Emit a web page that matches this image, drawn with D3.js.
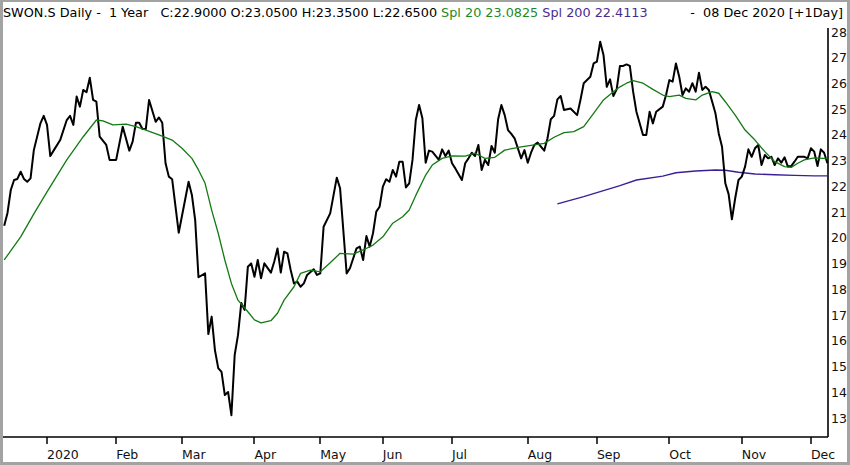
<!DOCTYPE html>
<html>
<head>
<meta charset="utf-8">
<script src="https://cdn.jsdelivr.net/npm/d3@7"></script>
<style>
  body { margin: 0; background: #fff; }
  svg text { font-family: "DejaVu Sans", Verdana, sans-serif; }
  .hdr { font-size: 12.8px; white-space: pre; }
</style>
</head>
<body>
<svg id="chart" width="850" height="465"></svg>
<script>
/*
 * SWON.S daily close, 1 year, with Spl 20 / Spl 200 averages
 * x axis runs over trading days (SIX calendar), not calendar days
 */

// trading calendar
var firstDay = "2019-12-09",
    lastDay = "2020-12-08";
var holidays = ["2019-12-24", "2019-12-25", "2019-12-26", "2019-12-31",
                "2020-01-01", "2020-01-02", "2020-04-10", "2020-04-13",
                "2020-05-01", "2020-05-21", "2020-06-01"];
var monthNames = ["2020", "Feb", "Mar", "Apr", "May", "Jun", "Jul", "Aug", "Sep", "Oct", "Nov", "Dec"];
var yTicks = [13, 14, 15, 16, 17, 18, 19, 20, 21, 22, 23, 24, 25, 26, 27, 28];

// close (trading day number, price)
var closeDay = [0, 1, 2, 3, 4, 5, 6, 7, 8, 9, 11, 12, 13, 14, 15, 17, 19, 20, 21, 22,
  23, 24, 25, 26, 27, 28, 29, 31, 32, 34, 36, 38, 39, 40, 41, 42, 43, 44, 46, 47,
  48, 49, 50, 51, 53, 56, 57, 58, 59, 61, 62, 63, 64, 65, 66, 67, 68, 69, 70, 71,
  72, 73, 74, 75, 76, 77, 78, 79, 81, 82, 83, 84, 85, 86, 87, 88, 89, 90, 91, 92,
  94, 95, 96, 97, 99, 101, 102, 104, 105, 107, 108, 109, 110, 111, 112, 113, 114, 115, 116, 117,
  118, 119, 120, 121, 122, 123, 124, 125, 126, 127, 128, 129, 130, 132, 133, 134, 135, 136, 137, 139,
  140, 141, 142, 143, 144, 145, 146, 147, 148, 149, 150, 151, 152, 153, 154, 155, 157, 158, 159, 160,
  161, 162, 164, 165, 166, 167, 168, 169, 170, 172, 174, 175, 176, 178, 179, 180, 181, 182, 183, 184,
  185, 186, 187, 188, 189, 190, 191, 192, 194, 195, 196, 197, 198, 200, 201, 202, 203, 204, 205, 206,
  207, 208, 209, 210, 211, 212, 213, 214, 216, 217, 218, 219, 220, 221, 222, 223, 224, 225, 226, 227,
  228, 229, 230, 231, 232, 233, 234, 235, 236, 237, 238, 239, 240, 241, 243, 244, 245, 246, 247, 248,
  249, 250];
var closeVal = [20.47, 20.97, 21.86, 22.25, 22.29, 22.57, 22.29, 22.18, 22.31, 23.41, 24.45, 24.74, 24.39, 23.18, 23.39, 23.80, 24.58, 24.74, 24.39, 25.49,
  25.10, 25.75, 25.66, 26.22, 25.36, 25.29, 23.93, 23.61, 23.03, 23.03, 24.32, 23.39, 23.74, 24.47, 24.47, 24.23, 24.23, 25.36, 24.51, 24.68,
  24.47, 22.90, 22.38, 22.28, 20.20, 22.18, 21.67, 20.69, 18.47, 18.62, 16.26, 16.94, 15.64, 14.94, 14.79, 13.89, 14.01, 13.11, 15.45, 16.22,
  17.47, 17.20, 18.88, 19.01, 18.49, 19.14, 18.43, 19.01, 18.65, 19.07, 19.59, 18.65, 19.46, 19.40, 18.75, 18.23, 18.30, 18.10, 18.23, 18.56,
  18.78, 18.56, 18.62, 20.43, 20.95, 22.34, 21.93, 18.62, 18.82, 19.59, 19.66, 19.14, 20.07, 19.66, 20.18, 21.02, 21.21, 21.99, 22.28, 22.18,
  22.64, 22.38, 22.96, 22.96, 21.96, 22.12, 23.03, 24.58, 25.16, 24.65, 22.92, 23.39, 23.35, 23.03, 23.44, 23.18, 23.39, 22.90, 22.70, 22.25,
  22.90, 23.09, 23.31, 23.18, 23.61, 22.64, 23.03, 22.83, 23.57, 23.31, 24.61, 25.16, 24.77, 24.19, 24.04, 23.87, 23.09, 23.41, 22.92, 23.31,
  23.61, 23.70, 23.39, 23.87, 24.61, 24.74, 25.38, 25.51, 24.97, 25.03, 24.77, 25.36, 26.01, 26.26, 26.78, 26.85, 27.62, 27.11, 25.87, 26.16,
  25.51, 25.77, 26.68, 26.68, 26.74, 26.68, 25.68, 24.90, 24.00, 24.00, 24.90, 24.45, 24.90, 25.10, 25.55, 26.13, 26.07, 26.78, 26.26, 25.55,
  25.81, 25.68, 26.01, 25.68, 26.42, 25.75, 25.87, 25.75, 24.84, 24.06, 23.54, 22.12, 21.70, 20.72, 21.54, 22.25, 22.38, 22.77, 23.44, 23.15,
  23.48, 23.61, 22.83, 23.22, 23.09, 23.15, 22.83, 23.09, 22.92, 23.13, 22.77, 22.79, 22.96, 23.15, 23.15, 23.09, 23.48, 23.35, 22.79, 23.44,
  23.31, 22.90];

// Spl 20
var spl20Day = [0, 5, 9, 13, 19, 24, 28, 30, 33, 37, 40, 43, 47, 51, 54, 57, 59, 61, 62, 63,
  65, 67, 69, 71, 74, 76, 78, 81, 83, 85, 88, 90, 93, 96, 99, 102, 106, 109, 112, 115,
  118, 121, 123, 125, 128, 130, 133, 136, 140, 143, 146, 149, 152, 157, 161, 164, 167, 170, 173, 176,
  179, 182, 185, 187, 189, 191, 194, 197, 200, 202, 205, 207, 210, 212, 215, 217, 219, 222, 225, 228,
  231, 234, 237, 239, 241, 243, 246, 250];
var spl20Val = [19.14, 20.04, 20.93, 21.79, 23.03, 23.93, 24.58, 24.55, 24.39, 24.42, 24.32, 24.19, 24.00, 23.80, 23.48, 23.09, 22.64, 22.12, 21.60, 21.08,
  20.18, 19.14, 18.23, 17.58, 17.13, 16.81, 16.70, 16.78, 17.07, 17.58, 18.10, 18.62, 18.75, 18.68, 19.03, 19.40, 19.37, 19.53, 19.72, 20.04,
  20.57, 20.82, 21.08, 21.65, 22.44, 22.83, 23.09, 23.19, 23.18, 23.29, 23.09, 23.13, 23.41, 23.54, 23.61, 23.67, 23.91, 24.09, 24.13, 24.32,
  24.84, 25.36, 25.68, 25.87, 26.01, 26.11, 26.01, 25.77, 25.55, 25.49, 25.55, 25.42, 25.36, 25.55, 25.68, 25.62, 25.29, 24.77, 24.19, 23.80,
  23.35, 22.96, 22.77, 22.74, 22.90, 23.03, 23.11, 23.08];

// Spl 200
var spl200Day = [168, 176, 187, 192, 200, 204, 210, 216, 219, 223, 228, 234, 240, 246, 250];
var spl200Val = [21.32, 21.60, 22.03, 22.25, 22.40, 22.53, 22.60, 22.64, 22.63, 22.55, 22.48, 22.45, 22.43, 22.41, 22.41];

// build list of trading days
var fmt = d3.timeFormat("%Y-%m-%d");
var tradingDays = d3.timeDay.range(new Date(firstDay + "T00:00"), d3.timeDay.offset(new Date(lastDay + "T00:00"), 1))
   .filter(function(d) {
      return d.getDay() != 0 && d.getDay() != 6 && holidays.indexOf(fmt(d)) < 0;
   });

// first trading day of every month from Jan 2020
var monthTicks = [];
tradingDays.forEach(function(d, i) {
   if (d.getFullYear() == 2020 && (i == 0 || tradingDays[i - 1].getMonth() != d.getMonth())) {
      monthTicks.push({ idx: i, label: monthNames[d.getMonth()] });
   }
});

var svg = d3.select("#chart"),
    WIDTH = 850,
    HEIGHT = 465,
    AXIS_X = 828,
    AXIS_Y = 437;

var xScale = d3.scaleLinear().domain([0, tradingDays.length - 1]).range([4.2, 827.4]),
    yScale = d3.scaleLinear().domain([13, 28]).range([418, 32]);

// frame
svg.append("rect")
   .attr("x", 1.5).attr("y", 0.5)
   .attr("width", WIDTH - 3).attr("height", HEIGHT - 2)
   .attr("fill", "#fff")
   .attr("stroke", "#a3a3a3")
   .attr("stroke-width", 3);

// header line
var hdr = svg.append("text")
   .attr("class", "hdr")
   .attr("x", 3)
   .attr("y", 17);
hdr.append("tspan").attr("fill", "#000")
   .text("SWON.S Daily -  1 Year   C:22.9000 O:23.0500 H:23.3500 L:22.6500");
hdr.append("tspan").attr("fill", "#1d8a1d")
   .text(" Spl 20 23.0825");
hdr.append("tspan").attr("fill", "#4a2a8f")
   .text(" Spl 200 22.4113");

svg.append("text")
   .attr("class", "hdr")
   .attr("x", 843)
   .attr("y", 17)
   .attr("text-anchor", "end")
   .attr("fill", "#000")
   .text("-  08 Dec 2020 [+1Day]");

// axes lines
svg.append("line")
   .attr("x1", 3).attr("x2", AXIS_X)
   .attr("y1", AXIS_Y).attr("y2", AXIS_Y)
   .attr("stroke", "#000").attr("stroke-width", 1.6);
svg.append("line")
   .attr("x1", AXIS_X).attr("x2", AXIS_X)
   .attr("y1", 28).attr("y2", AXIS_Y)
   .attr("stroke", "#000").attr("stroke-width", 1.6);

// month ticks and labels
var xt = svg.append("g");
xt.selectAll("line").data(monthTicks).enter().append("line")
   .attr("x1", function(d) { return Math.round(xScale(d.idx)); })
   .attr("x2", function(d) { return Math.round(xScale(d.idx)); })
   .attr("y1", AXIS_Y).attr("y2", AXIS_Y + 7)
   .attr("stroke", "#000").attr("stroke-width", 1.5);
xt.selectAll("text").data(monthTicks).enter().append("text")
   .attr("x", function(d) { return xScale(d.idx); })
   .attr("y", 459)
   .attr("font-size", "12.5px")
   .attr("fill", "#111")
   .text(function(d) { return d.label; });

// price labels on the right
svg.append("g").selectAll("text").data(yTicks).enter().append("text")
   .attr("x", AXIS_X + 3)
   .attr("y", function(d) { return yScale(d); })
   .attr("dy", "0.36em")
   .attr("font-size", "12.5px")
   .attr("fill", "#111")
   .text(function(d) { return d; });

// lines
function series(days, vals) {
   return days.map(function(d, i) { return { x: d, y: vals[i] }; });
}
var lineGen = d3.line()
   .x(function(d) { return xScale(d.x); })
   .y(function(d) { return yScale(d.y); });

svg.append("path")
   .attr("d", lineGen(series(spl200Day, spl200Val)))
   .attr("stroke", "#3b1f96")
   .attr("stroke-width", 1.4)
   .attr("fill", "none");

svg.append("path")
   .attr("d", lineGen(series(closeDay, closeVal)))
   .attr("stroke", "#000")
   .attr("stroke-width", 2)
   .attr("stroke-linejoin", "round")
   .attr("fill", "none");

svg.append("path")
   .attr("d", lineGen(series(spl20Day, spl20Val)))
   .attr("stroke", "#137a13")
   .attr("stroke-width", 1.3)
   .attr("fill", "none")
   .attr("stroke-linejoin", "round");
</script>
</body>
</html>
